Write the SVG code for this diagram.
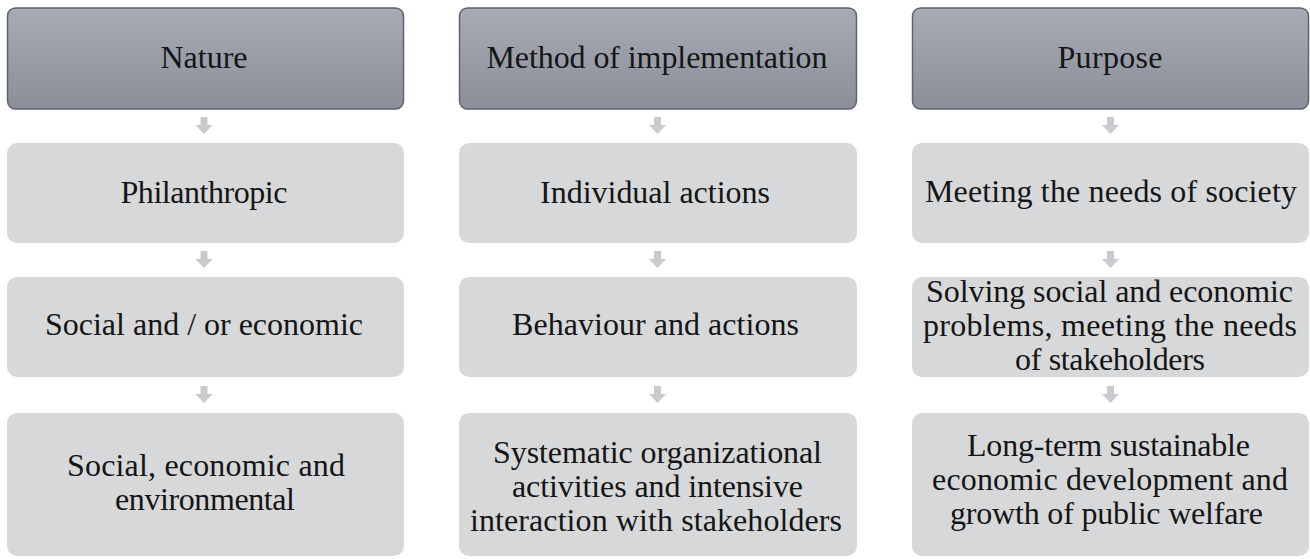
<svg xmlns="http://www.w3.org/2000/svg" width="1310" height="559" viewBox="0 0 1310 559">
<defs>
<linearGradient id="hg" x1="0" y1="0" x2="0" y2="1">
<stop offset="0" stop-color="#a7abb4"/>
<stop offset="1" stop-color="#8a8f99"/>
</linearGradient>
<style>
.hdr{fill:url(#hg);stroke:#5f636a;stroke-width:1.5}
.box{fill:#d7d8da}
.t{font-size:32px;fill:#151515;text-anchor:middle}
.arr{fill:#c9cacd}
</style>
</defs>
<rect width="1310" height="559" fill="#ffffff"/>
<g id="connectors">
<path class="arr" d="M200.5 117h7v8h5l-8.5 9l-8.5-9h5z"/>
<path class="arr" d="M200.5 251h7v8h5l-8.5 9l-8.5-9h5z"/>
<path class="arr" d="M200.5 386h7v8h5l-8.5 9l-8.5-9h5z"/>
<path class="arr" d="M654 117h7v8h5l-8.5 9l-8.5-9h5z"/>
<path class="arr" d="M654 251h7v8h5l-8.5 9l-8.5-9h5z"/>
<path class="arr" d="M654 386h7v8h5l-8.5 9l-8.5-9h5z"/>
<path class="arr" d="M1107 117h7v8h5l-8.5 9l-8.5-9h5z"/>
<path class="arr" d="M1107 251h7v8h5l-8.5 9l-8.5-9h5z"/>
<path class="arr" d="M1107 386h7v8h5l-8.5 9l-8.5-9h5z"/>
</g>
<g font-family="Liberation Serif, Times New Roman, Noto Serif, DejaVu Serif, serif">
<g id="nature">
<rect class="hdr" x="7.5" y="8" width="396" height="101" rx="8"/>
<text class="t" x="204" y="68" textLength="87" lengthAdjust="spacing">Nature</text>
</g>
<g id="philanthropic">
<rect class="box" x="7" y="143" width="397" height="100" rx="10"/>
<text class="t" x="204" y="203" textLength="167" lengthAdjust="spacing">Philanthropic</text>
</g>
<g id="social-or-economic">
<rect class="box" x="7" y="277" width="397" height="100" rx="10"/>
<text class="t" x="204" y="335" textLength="318" lengthAdjust="spacing">Social and / or economic</text>
</g>
<g id="social-economic-environmental">
<rect class="box" x="7" y="413" width="397" height="143" rx="10"/>
<text class="t" x="206" y="476" textLength="278" lengthAdjust="spacing">Social, economic and</text>
<text class="t" x="205" y="510" textLength="180" lengthAdjust="spacing">environmental</text>
</g>
<g id="method">
<rect class="hdr" x="459.5" y="8" width="397" height="101" rx="8"/>
<text class="t" x="657" y="68" textLength="341" lengthAdjust="spacing">Method of implementation</text>
</g>
<g id="individual-actions">
<rect class="box" x="459" y="143" width="398" height="100" rx="10"/>
<text class="t" x="655" y="203" textLength="230" lengthAdjust="spacing">Individual  actions</text>
</g>
<g id="behaviour-actions">
<rect class="box" x="459" y="277" width="398" height="100" rx="10"/>
<text class="t" x="655.5" y="335" textLength="287" lengthAdjust="spacing">Behaviour  and actions</text>
</g>
<g id="systematic">
<rect class="box" x="459" y="413" width="398" height="143" rx="10"/>
<text class="t" x="657.5" y="463" textLength="329" lengthAdjust="spacing">Systematic  organizational</text>
<text class="t" x="657.5" y="497" textLength="291" lengthAdjust="spacing">activities  and intensive</text>
<text class="t" x="656" y="531" textLength="372" lengthAdjust="spacing">interaction  with  stakeholders</text>
</g>
<g id="purpose">
<rect class="hdr" x="912.5" y="8" width="396" height="101" rx="8"/>
<text class="t" x="1110" y="68" textLength="105" lengthAdjust="spacing">Purpose</text>
</g>
<g id="meeting-needs">
<rect class="box" x="912" y="143" width="397" height="100" rx="10"/>
<text class="t" x="1111" y="202" textLength="372" lengthAdjust="spacing">Meeting  the needs of society</text>
</g>
<g id="solving-problems">
<rect class="box" x="912" y="277" width="397" height="100" rx="10"/>
<text class="t" x="1109.5" y="302" textLength="367" lengthAdjust="spacing">Solving  social and economic</text>
<text class="t" x="1110" y="336" textLength="374" lengthAdjust="spacing">problems,  meeting  the needs</text>
<text class="t" x="1110" y="370" textLength="190" lengthAdjust="spacing">of stakeholders</text>
</g>
<g id="long-term">
<rect class="box" x="912" y="413" width="397" height="143" rx="10"/>
<text class="t" x="1108.5" y="456" textLength="283" lengthAdjust="spacing">Long-term  sustainable</text>
<text class="t" x="1110" y="490" textLength="356" lengthAdjust="spacing">economic  development  and</text>
<text class="t" x="1106.5" y="524" textLength="313" lengthAdjust="spacing">growth  of public  welfare</text>
</g>
</g>
</svg>
